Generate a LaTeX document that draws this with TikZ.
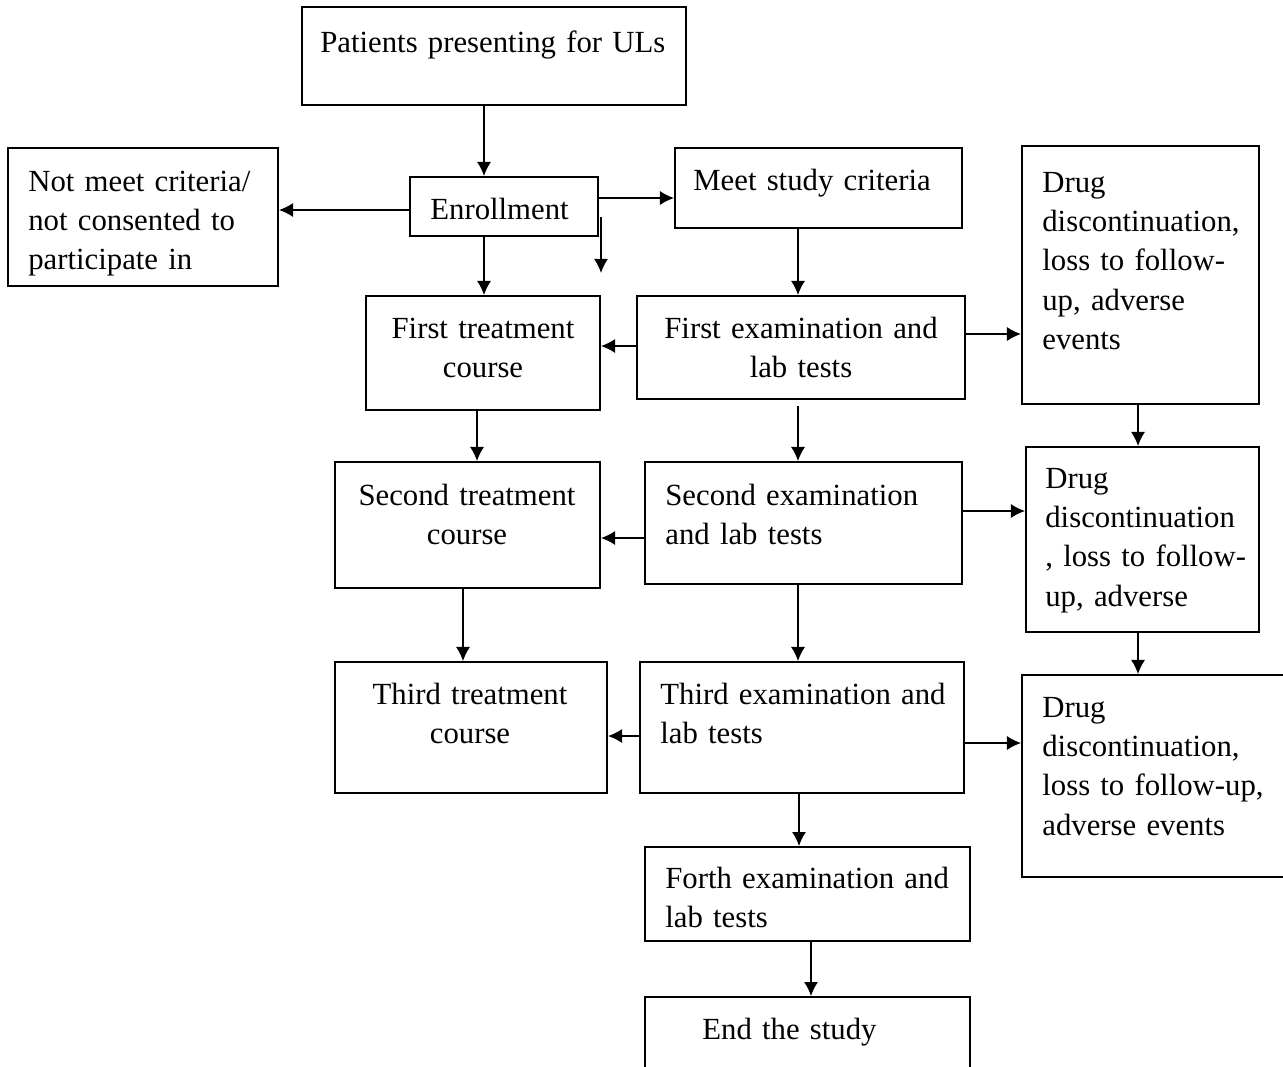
\documentclass[tikz,border=0pt]{standalone}
\usepackage{fontspec}
\setmainfont{Liberation Serif}
\usetikzlibrary{arrows.meta,fit}

\begin{document}
\begin{tikzpicture}[x=0.02cm, y=-0.02cm,
		box/.style={draw, line width=1.1pt, inner sep=0pt, fit={#1}},
		txt/.style={inner sep=0pt, font=\fontsize{17.5}{22.4}\selectfont},
		ltxt/.style={txt, text width=#1, align=left, anchor=base west},
		ctxt/.style={txt, text width=#1, align=center, anchor=base},
		link/.style={->, line width=0.9pt},
		>={Latex[length=8pt,width=8pt]}]
	\useasboundingbox (0,0) rectangle (1283,1066);
	\clip (0,0) rectangle (1283,1066);
	% boxes
	\node[box={(302,7)(686,105)}] (patients) {};
	\node[box={(8,148)(278,286)}] (notmeet) {};
	\node[box={(410,177)(598,236)}] (enroll) {};
	\node[box={(675,148)(962,228)}] (meet) {};
	\node[box={(1022,146)(1259,404)}] (drugA) {};
	\node[box={(366,296)(600,410)}] (firsttr) {};
	\node[box={(637,296)(965,399)}] (firstex) {};
	\node[box={(335,462)(600,588)}] (secondtr) {};
	\node[box={(645,462)(962,584)}] (secondex) {};
	\node[box={(1026,447)(1259,632)}] (drugB) {};
	\node[box={(335,662)(607,793)}] (thirdtr) {};
	\node[box={(640,662)(964,793)}] (thirdex) {};
	\node[box={(1022,675)(1295,877)}] (drugC) {};
	\node[box={(645,847)(970,941)}] (forth) {};
	\node[box={(645,997)(970,1090)}] (endst) {};
	% texts
	\node[ltxt=7cm] (tpatients) at (320,52) {Patients presenting for ULs};
	\node[ltxt=5cm] (tnotmeet) at (28,191) {Not meet criteria/\\not consented to\\participate in};
	\node[ltxt=3cm] (tenroll) at (430,219) {Enrollment};
	\node[ltxt=5cm] (tmeet) at (693,190) {Meet study criteria};
	\node[ltxt=4.3cm] (tdrugA) at (1042,192) {Drug\\discontinuation,\\loss to follow-\\up, adverse\\events};
	\node[ctxt=4.5cm] (tfirsttr) at (483,338) {First treatment\\course};
	\node[ctxt=6.2cm] (tfirstex) at (801,338) {First examination and\\lab tests};
	\node[ctxt=5cm] (tsecondtr) at (467,505) {Second treatment\\course};
	\node[ltxt=5.8cm] (tsecondex) at (665,505) {Second examination\\and lab tests};
	\node[ltxt=4.3cm] (tdrugB) at (1045,488) {Drug\\discontinuation\\, loss to follow-\\up, adverse};
	\node[ctxt=5cm] (tthirdtr) at (470,704) {Third treatment\\course};
	\node[ltxt=5.9cm] (tthirdex) at (660,704) {Third examination and\\lab tests};
	\node[ltxt=4.7cm] (tdrugC) at (1042,717) {Drug\\discontinuation,\\loss to follow-up,\\adverse events};
	\node[ltxt=5.9cm] (tforth) at (665,888) {Forth examination and\\lab tests};
	\node[ltxt=5cm] (tendst) at (702,1039) {End the study};
	% arrows
	\draw[link] (patients.south -| 484,0) -- (enroll.north -| 484,0);
	\draw[link] (enroll.west |- 0,210) -- (notmeet.east |- 0,210);
	\draw[link] (enroll.east |- 0,198) -- (meet.west |- 0,198);
	\coordinate (gapA) at (601,217);
	\coordinate (gapB) at (601,273);
	\draw[link] (gapA) -- (gapB);
	\draw[link] (enroll.south -| 484,0) -- (firsttr.north -| 484,0);
	\draw[link] (meet.south -| 798,0) -- (firstex.north -| 798,0);
	\draw[link] (firstex.west |- 0,346) -- (firsttr.east |- 0,346);
	\draw[link] (firstex.east |- 0,334) -- (drugA.west |- 0,334);
	\draw[link] (drugA.south -| 1138,0) -- (drugB.north -| 1138,0);
	\draw[link] (firsttr.south -| 477,0) -- (secondtr.north -| 477,0);
	\draw[link, shorten <=0.12cm] (firstex.south -| 798,0) -- (secondex.north -| 798,0);
	\draw[link] (secondex.west |- 0,538) -- (secondtr.east |- 0,538);
	\draw[link] (secondex.east |- 0,511) -- (drugB.west |- 0,511);
	\draw[link] (drugB.south -| 1138,0) -- (drugC.north -| 1138,0);
	\draw[link] (secondtr.south -| 463,0) -- (thirdtr.north -| 463,0);
	\draw[link] (secondex.south -| 798,0) -- (thirdex.north -| 798,0);
	\draw[link] (thirdex.west |- 0,736) -- (thirdtr.east |- 0,736);
	\draw[link] (thirdex.east |- 0,743) -- (drugC.west |- 0,743);
	\draw[link] (thirdex.south -| 799,0) -- (forth.north -| 799,0);
	\draw[link] (forth.south -| 811,0) -- (endst.north -| 811,0);
\end{tikzpicture}
\end{document}
